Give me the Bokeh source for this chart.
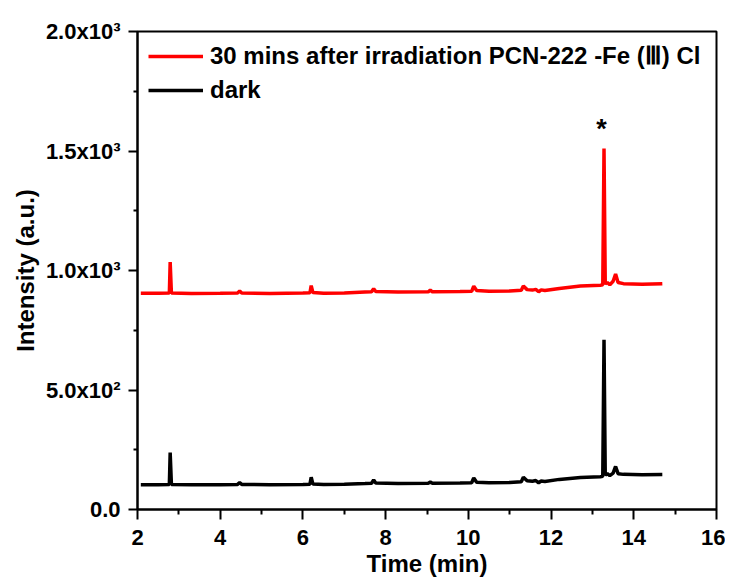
from bokeh.plotting import figure
from bokeh.models import Range1d, FixedTicker, Legend, LegendItem
from bokeh.core.properties import value
from bokeh.embed import file_html
from bokeh.resources import INLINE

# ---- data ----
red_time = [2.08, 2.5, 2.77, 2.79, 2.82, 3.3, 4.0, 4.42, 4.47, 4.52, 5.2, 6.0, 6.17, 6.20, 6.24,
            6.5, 7.0, 7.5, 7.66, 7.71, 7.76, 8.3, 9.03, 9.08, 9.13, 9.8, 10.08, 10.13, 10.2,
            10.5, 11.0, 11.28, 11.33, 11.42, 11.55, 11.63, 11.70, 11.76, 11.85, 12.2, 12.71,
            13.19, 13.25, 13.28, 13.31, 13.36, 13.42, 13.5, 13.56, 13.62, 13.75, 14.2, 14.69]
red_int = [905, 905, 906, 1035, 906, 904, 905, 906, 914, 906, 904, 906, 907, 937, 908,
           905, 906, 910, 911, 924, 912, 910, 911, 918, 911, 912, 913, 934, 916,
           913, 914, 917, 935, 920, 918, 921, 911, 919, 916, 925, 935,
           938, 940, 1510, 945, 950, 940, 955, 985, 950, 945, 942, 945]

dark_time = [2.08, 2.5, 2.77, 2.79, 2.82, 3.3, 4.0, 4.42, 4.47, 4.52, 5.2, 6.0, 6.17, 6.20, 6.24,
             6.5, 7.0, 7.5, 7.66, 7.71, 7.76, 8.3, 9.03, 9.08, 9.13, 9.8, 10.08, 10.13, 10.2,
             10.5, 11.0, 11.28, 11.33, 11.42, 11.55, 11.63, 11.70, 11.76, 11.85, 12.2, 12.71,
             13.19, 13.25, 13.28, 13.31, 13.36, 13.42, 13.5, 13.56, 13.62, 13.75, 14.2, 14.69]
dark_int = [104, 104, 105, 238, 105, 104, 104, 105, 112, 105, 104, 105, 106, 135, 107,
            105, 106, 109, 110, 124, 111, 109, 110, 115, 110, 111, 112, 132, 114,
            112, 113, 116, 135, 120, 118, 121, 112, 119, 117, 126, 134,
            137, 139, 710, 144, 150, 142, 152, 180, 150, 147, 145, 146]

y_ticks = [0, 500, 1000, 1500, 2000]
y_tick_labels = ["0.0", "5.0x10\u00b2", "1.0x10\u00b3", "1.5x10\u00b3", "2.0x10\u00b3"]
y_minor = [250, 750, 1250, 1750]
x_ticks = [2, 4, 6, 8, 10, 12, 14, 16]
x_minor = [3, 5, 7, 9, 11, 13, 15]

label_red = "30 mins after irradiation PCN-222 -Fe (\u2162) Cl"
label_dark = "dark"

star_x = [13.22]
star_y = [1590]
star_text = ["*"]

FONT = "Liberation Sans"

p = figure(width=725, height=579, output_backend="svg", toolbar_location=None,
           x_range=Range1d(2, 16), y_range=Range1d(0, 2000),
           min_border_left=137, min_border_right=9, min_border_top=31, min_border_bottom=70)
p.grid.visible = False
p.outline_line_color = "black"
p.outline_line_width = 2
p.background_fill_color = "white"
p.border_fill_color = "white"

r_red = p.line(red_time, red_int, line_color="#ff0000", line_width=3.5)
r_dark = p.line(dark_time, dark_int, line_color="black", line_width=3.5)

p.text(x=star_x, y=star_y, text=star_text, text_font=value(FONT), text_font_style="bold",
       text_font_size="27px", text_align="center", text_baseline="middle", text_color="black")

for ax in (p.xaxis[0], p.yaxis[0]):
    ax.axis_line_width = 2
    ax.major_tick_line_width = 2
    ax.minor_tick_line_width = 2
    ax.major_tick_in = 0
    ax.minor_tick_in = 0
    ax.major_label_text_font = FONT
    ax.major_label_text_font_style = "bold"
    ax.major_label_text_font_size = "22px"
    ax.major_label_text_color = "black"
    ax.axis_label_text_font = FONT
    ax.axis_label_text_font_style = "bold"
    ax.axis_label_text_font_size = "24px"
    ax.axis_label_text_color = "black"

p.xaxis.ticker = FixedTicker(ticks=x_ticks, minor_ticks=x_minor)
p.xaxis.major_tick_out = 10
p.xaxis.minor_tick_out = 5
p.xaxis.major_label_standoff = 10
p.xaxis.axis_label = "Time (min)"
p.xaxis.axis_label_standoff = 2

p.yaxis.ticker = FixedTicker(ticks=y_ticks, minor_ticks=y_minor)
p.yaxis.major_label_overrides = {t: l for t, l in zip(y_ticks, y_tick_labels)}
p.yaxis.major_tick_out = 9
p.yaxis.minor_tick_out = 4
p.yaxis.major_label_standoff = 8
p.yaxis.axis_label = "Intensity (a.u.)"
p.yaxis.axis_label_standoff = 4

legend = Legend(items=[LegendItem(label=label_red, renderers=[r_red]),
                       LegendItem(label=label_dark, renderers=[r_dark])],
                location=(11, 405), orientation="vertical")
legend.border_line_color = None
legend.background_fill_alpha = 0
legend.margin = 0
legend.padding = 0
legend.spacing = 6
legend.glyph_width = 55
legend.glyph_height = 24
legend.label_height = 24
legend.label_standoff = 7
legend.label_text_font = FONT
legend.label_text_font_style = "bold"
legend.label_text_font_size = "24px"
legend.label_text_color = "black"
p.add_layout(legend, "center")

open("out.html", "w").write(file_html(p, INLINE))
